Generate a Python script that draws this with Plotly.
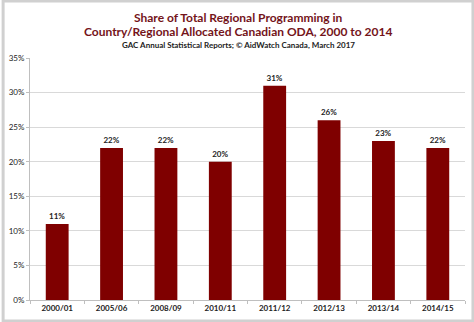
import plotly.graph_objects as go

categories = ["2000/01", "2005/06", "2008/09", "2010/11", "2011/12", "2012/13", "2013/14", "2014/15"]
shares = [11, 22, 22, 20, 31, 26, 23, 22]
y_ticks = [0, 5, 10, 15, 20, 25, 30, 35]
y_tick_labels = [f"{v}%" for v in y_ticks]

bar_color = "#7F0000"
title_color = "#74141A"

W, H = 474, 322
ML, MR, MT, MB = 28, 9, 58, 22
plot_w = W - ML - MR
plot_h = H - MT - MB

def px(xpix):
    return (xpix - ML) / plot_w

def py(ypix):
    return (H - MB - ypix) / plot_h

fig = go.Figure(go.Bar(
    x=categories, y=shares,
    marker=dict(color=bar_color, line=dict(width=0)),
    width=0.42,
    text=[f"<b>{v}%</b>" for v in shares],
    textposition="outside",
    textfont=dict(family="Lato", size=8, color="#222222"),
    cliponaxis=False,
))

fig.update_layout(
    width=W, height=H,
    margin=dict(l=ML, r=MR, t=MT, b=MB),
    paper_bgcolor="white", plot_bgcolor="white",
    font=dict(family="Lato", color="#222222"),
    showlegend=False,
    annotations=[
        dict(text="<b>Share of Total Regional Programming in</b>", x=px(W / 2), y=py(17),
             xref="paper", yref="paper", xanchor="center", yanchor="middle",
             showarrow=False, font=dict(size=12, color=title_color, family="Lato")),
        dict(text="<b>Country/Regional Allocated Canadian ODA, 2000 to 2014</b>", x=px(W / 2), y=py(32),
             xref="paper", yref="paper", xanchor="center", yanchor="middle",
             showarrow=False, font=dict(size=12, color=title_color, family="Lato")),
        dict(text="<b>GAC Annual Statistical Reports; © AidWatch Canada, March 2017</b>", x=px(W / 2), y=py(45),
             xref="paper", yref="paper", xanchor="center", yanchor="middle",
             showarrow=False, font=dict(size=8, color="#222222", family="Lato")),
    ],
)

fig.add_shape(type="rect", xref="paper", yref="paper",
              x0=px(1), x1=px(W - 1), y0=py(H - 1), y1=py(1),
              line=dict(color="#D0D0D0", width=3))

fig.update_yaxes(
    range=[0, 35], tickvals=y_ticks, ticktext=y_tick_labels,
    showgrid=True, gridcolor="#D9D9D9", gridwidth=1,
    showline=True, linecolor="#BFBFBF", linewidth=1,
    ticks="outside", ticklen=3, tickcolor="#BFBFBF",
    tickfont=dict(size=8, family="Lato", color="#222222"),
    zeroline=False,
)
fig.update_xaxes(
    showline=True, linecolor="#BFBFBF", linewidth=1,
    ticks="outside", tickson="boundaries", ticklen=3, tickcolor="#BFBFBF",
    tickfont=dict(size=8, family="Lato", color="#222222"),
    tickprefix="<b>", ticksuffix="</b>",
)

fig.write_html("out.html")
